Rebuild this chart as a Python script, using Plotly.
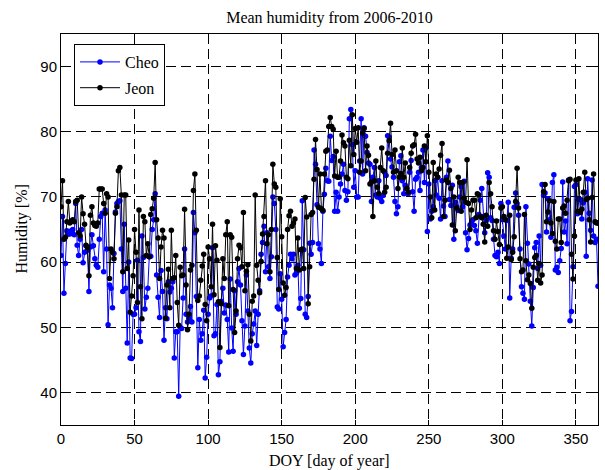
import plotly.graph_objects as go

doy = list(range(0, 366))

jeon = [
    68.5, 72.5, 63.5, 63.8, 66.2, 69.3, 66, 66.3, 66.5, 66.2,
    69.3, 69.5, 64.5, 64, 70, 67.4, 65.8, 62.6, 62.2, 57.9,
    67.2, 68.5, 66, 65.6, 65.5, 66, 71.2, 71.2, 71.2, 69,
    67.5, 70.5, 70, 57.5, 62, 61.5, 60.5, 67.5, 68.5, 74,
    74.5, 70.3, 58.5, 70.3, 70.3, 59, 63.4, 52.3, 54.8, 57.9,
    65, 61.5, 53.8, 68, 56.2, 51.3, 67, 66.2, 61, 62.8,
    60.8, 67.3, 68.2, 69.8, 75.3, 66.5, 63.7, 57.5, 62.3, 64.9,
    63.7, 51.4, 56.5, 58.9, 53, 64.9, 57.5, 57.6, 61, 53.8,
    50.3, 59.2, 57.9, 58, 68.1, 56.5, 49.6, 52, 58.8, 59.5,
    71, 73.5, 64.9, 54.1, 54.8, 57.2, 59.4, 61.2, 53.5, 51,
    62.3, 60.5, 56.2, 65.8, 55, 62.5, 60.3, 53.9, 46.9, 53.6,
    60.5, 57.5, 64.2, 66.2, 53.3, 64.2, 63.8, 55.8, 49.2, 52.5,
    60.5, 62.6, 62.2, 59.3, 67.6, 55.6, 58.6, 59.6, 52, 47.9,
    54, 54.8, 70.3, 59.5, 57.2, 55.3, 60.1, 64.3, 67, 72.5,
    62.8, 64.2, 58.5, 65, 75, 72, 71.5, 60.7, 55.8, 69.7,
    63.9, 56.8, 54.9, 56.1, 65, 67.1, 67.8, 65.5, 66, 66.6,
    59, 63.7, 58.8, 61.9, 62, 59, 69.9, 66.9, 53.6, 59.3,
    67.3, 67.6, 72.7, 78.8, 74.2, 68.4, 73.5, 68.2, 67.9, 73.5,
    77, 77.2, 80.8, 82.2, 80.8, 80.4, 73.2, 77, 73, 73,
    75.5, 79.5, 78.3, 77.8, 73, 72.8, 78.7, 74.8, 82.6, 76.5,
    80.5, 78.4, 80.6, 73.8, 75.5, 79.8, 80.5, 74, 77.8, 76.4,
    72, 72.3, 67, 72.5, 75.5, 71.5, 70.5, 74.5, 77.5, 74,
    70.7, 71.5, 76.7, 78.6, 81.3, 76.5, 73.8, 77.2, 74, 71.3,
    73, 73.6, 77.5, 73, 75.2, 71.3, 70.7, 74.5, 76.7, 77.8,
    78, 79.6, 75.8, 75.2, 76.1, 74, 74.5, 77.8, 75.4, 79.4,
    73.8, 70, 66.8, 75.3, 68, 73.5, 73, 74.3, 76.4, 78.2,
    67, 69.5, 72.6, 72.2, 74.1, 71.3, 65.7, 70, 64.8, 68.3,
    73, 72.2, 67.8, 72.2, 69.8, 69.2, 75.7, 69, 65, 68,
    69.5, 69.5, 66.8, 70.5, 70.3, 67, 66.8, 65.8, 63.1, 67.2,
    65.5, 72.2, 70.5, 68.5, 64.8, 63.5, 66.3, 64.7, 62.7, 68.3,
    68.5, 67, 66.5, 60.6, 62.3, 67.2, 60.4, 61.5, 63.9, 69.3,
    74.4, 68.3, 60.5, 58.5, 58.8, 67.3, 60.2, 57.3, 58, 56.7,
    52.9, 59.2, 60.7, 61, 57.2, 59.8, 56.8, 58, 70.8, 71.9,
    66.2, 67.7, 69.4, 66, 64.4, 69.3, 63.2, 62, 66.6, 66.6,
    63, 68.3, 68.6, 67.5, 69.5, 72.5, 72.7, 61.2, 57.4, 64,
    72.6, 67.8, 72.8, 67.6, 68.1, 70.7, 73.8, 69.6, 69.8, 66.5,
    63.1, 69.9, 73.5, 66.2, 66, 66,
]

cheo = [
    61, 67, 55.2, 59.8, 64.8, 64.3, 64.3, 64.8, 65, 64.2,
    69, 62.6, 61, 63.5, 65, 59.9, 61.5, 62.5, 61.8, 55.5,
    62.3, 64.2, 62.5, 60.5, 59.5, 59.2, 63.5, 67, 67.5, 58.5,
    68, 62, 50.4, 56.5, 56, 53, 61.3, 67.7, 69, 69.3,
    69.4, 62, 55.5, 65.8, 56, 47.6, 60, 45.3, 45.2, 52,
    52, 53, 60.3, 49.3, 47.8, 64, 60.7, 52.8, 54.6, 56,
    60.8, 60.9, 65, 66.5, 70.5, 58, 54.6, 51.5, 58.7, 55.5,
    48, 53, 51.3, 57, 55.4, 56, 57, 45.3, 49.3, 49.3,
    39.4, 50, 49.8, 54.5, 62, 52, 50.8, 51.4, 53.2, 50.8,
    67.6, 64.5, 54.7, 43.8, 51.2, 48, 49, 52.6, 42.2, 45.4,
    52, 54.5, 54.8, 62.2, 48.7, 49, 53.5, 42.7, 44.7, 54,
    56, 52.2, 53.4, 51.2, 46.2, 57.4, 49.9, 46.3, 55.6, 52,
    57, 59, 56.5, 51, 45.8, 50.2, 58, 52.5, 46.8, 44.5,
    49, 50.5, 52.5, 47.2, 52, 55.6, 61.2, 63, 65.5, 58.5,
    64.5, 59.3, 57.5, 60.8, 70, 69, 65, 53.1, 52.8, 58.2,
    54.3, 47, 49.2, 51.2, 57.7, 59.5, 61.2, 60.5, 61.2, 58,
    58.3, 59.5, 52.9, 54.4, 69.4, 61.9, 52, 51.5, 54.7, 62.9,
    61.2, 63, 77.2, 75, 68.8, 62.8, 62, 59.8, 67.8, 70.4,
    74.4, 72.5, 72.4, 79.3, 75.6, 76.2, 67.8, 70.7, 67.8, 70,
    72, 73.5, 75, 71, 69.5, 70.8, 82, 83.4, 78, 71.5,
    74, 70, 70, 75.5, 82, 73.5, 80.6, 79.3, 76.8, 75.2,
    75, 69.3, 73, 74.5, 70.3, 70, 72.5, 69.8, 69.3, 70.2,
    73.8, 73.3, 79.4, 79.2, 75.8, 74.6, 73, 69.3, 67.4, 68.5,
    75.4, 76.3, 72.5, 70.5, 71.8, 71.3, 70.5, 73.8, 75.6, 70.8,
    67.8, 72.7, 73, 73.8, 71, 74.5, 77.2, 72.2, 77.5, 64.7,
    72, 66.6, 67.8, 68.5, 72.5, 70.3, 73, 69.8, 66.6, 72.5,
    68.6, 67, 73, 75.5, 69.6, 68.7, 71.8, 63.5, 69.2, 68.5,
    67.9, 70, 71.6, 68.5, 72.4, 64.5, 61.9, 63.6, 65.7, 66,
    66.5, 65.6, 64.8, 62.9, 67.3, 69.5, 71.3, 67, 64.5, 66.4,
    73.7, 73, 66.8, 66.4, 63.5, 61, 60.8, 61.5, 59.8, 69,
    66.5, 64, 62, 66.4, 69.2, 54.5, 60.6, 62, 68.4, 70.6,
    69, 67.2, 62, 56.2, 55.2, 54.3, 68.5, 62.9, 59.7, 54,
    50.2, 56.1, 62.2, 63, 59, 64, 59.5, 71.9, 70.2, 70.6,
    64.6, 69.7, 66.5, 63.8, 72.2, 73.4, 58.8, 59.2, 58.4, 60.2,
    62.1, 72.3, 64.6, 66.3, 62.8, 72.6, 51, 52.4, 59.3, 71.6,
    71.9, 67.4, 69.6, 69.6, 66.6, 69.1, 70.7, 60.9, 72.8, 67.5,
    64.9, 72.6, 64, 63, 63.5, 56.3,
]

x_ticks = [0, 50, 100, 150, 200, 250, 300, 350]
y_ticks = [40, 50, 60, 70, 80, 90]

fig = go.Figure()
fig.add_trace(go.Scatter(
    x=doy, y=cheo, name="Cheo", mode="lines+markers", legendgroup="a",
    line=dict(color="#0000ff", width=1),
    marker=dict(color="#0000ff", size=5.5, symbol="circle"),
))
fig.add_trace(go.Scatter(
    x=doy, y=jeon, name="Jeon", mode="lines+markers", legendgroup="b",
    line=dict(color="#000000", width=1),
    marker=dict(color="#000000", size=5.5, symbol="circle"),
))

serif = "Liberation Serif, Times New Roman, serif"
sans = "Liberation Sans, Arial, sans-serif"

axis_common = dict(
    showline=True, linecolor="black", linewidth=1, mirror="ticks",
    ticks="inside", ticklen=5, tickcolor="black",
    showgrid=True, gridcolor="black", gridwidth=1, griddash="10px,5px",
    zeroline=False, automargin=False,
    tickfont=dict(family=sans, size=15, color="black"),
)

W, H = 605, 470
L, R, T, B = 61, 7, 34, 45
pw, ph = W - L - R, H - T - B

fig.update_layout(
    width=W, height=H,
    margin=dict(l=L, r=R, t=T, b=B, autoexpand=False),
    paper_bgcolor="white", plot_bgcolor="white",
    title=dict(text="Mean humidity from 2006-2010",
               x=(L + pw / 2) / W, xanchor="center",
               xref="container", yref="container",
               y=1 - 17 / H, yanchor="middle",
               font=dict(family=serif, size=16, color="black")),
    xaxis=dict(range=[0, 365], tickvals=x_ticks, **axis_common),
    yaxis=dict(range=[35, 95], tickvals=y_ticks, **axis_common),
    legend=dict(x=(74 - L) / pw, y=1 - (44 - T) / ph, xanchor="left", yanchor="top",
                bgcolor="white", bordercolor="black", borderwidth=1,
                font=dict(family=serif, size=16, color="black"),
                tracegroupgap=2, itemwidth=40),
    showlegend=True,
    annotations=[
        dict(text="DOY [day of year]", xref="paper", yref="paper",
             x=0.5, y=-(461 - (T + ph)) / ph, xanchor="center", yanchor="middle",
             showarrow=False, font=dict(family=serif, size=16, color="black")),
        dict(text="Humidity [%]", xref="paper", yref="paper",
             x=-(L - 21) / pw, y=0.5, xanchor="center", yanchor="middle",
             textangle=-90, showarrow=False,
             font=dict(family=serif, size=16, color="black")),
    ],
)

fig.write_html("out.html",
               config={"displayModeBar": False},
               post_script="document.body.style.margin='0';document.body.style.overflow='hidden';")
